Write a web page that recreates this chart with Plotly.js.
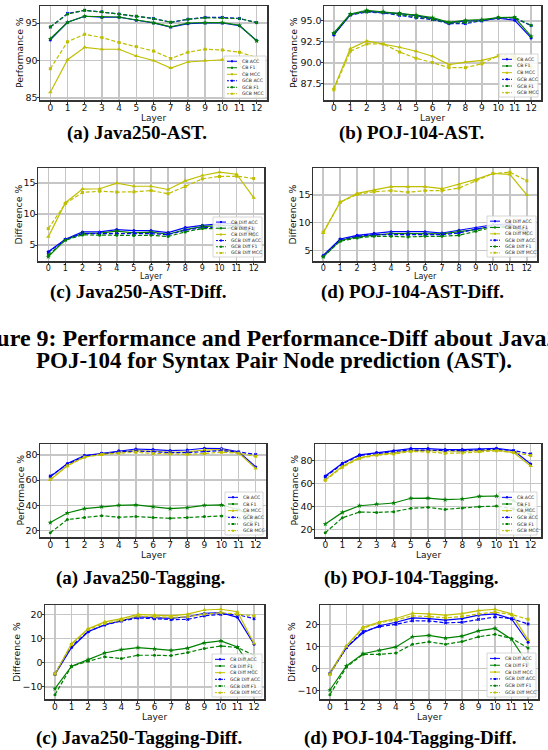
<!DOCTYPE html>
<html>
<head>
<meta charset="utf-8">
<script src="https://cdn.plot.ly/plotly-3.0.1.min.js"></script>
<style>
html,body{margin:0;padding:0;background:#fff;}
#chart{width:548px;height:750px;}
</style>
</head>
<body>
<div id="chart"></div>
<script>
// ---------------- DATA ----------------
const layers = [0,1,2,3,4,5,6,7,8,9,10,11,12];

const seriesPerf = ['CB ACC','CB F1','CB MCC','GCB ACC','GCB F1','GCB MCC'];
const seriesDiff = ['CB Diff ACC','CB Diff F1','CB Diff MCC','GCB Diff ACC','GCB Diff F1','GCB Diff MCC'];

// (a) Java250-AST
const j250AstCbAcc  = [92.75,95.1,95.9,95.77,95.77,95.36,95.0,94.46,94.9,95.0,95.0,94.64,92.66];
const j250AstCbF1   = [92.9,95.1,95.9,95.8,95.8,95.4,95.05,94.5,95.0,95.05,95.05,94.7,92.6];
const j250AstCbMcc  = [85.77,90.1,91.76,91.5,91.5,90.6,90.0,89.0,89.8,90.0,90.1,89.6,85.3];
const j250AstGcbAcc = [94.45,96.26,96.7,96.5,96.2,95.9,95.6,95.1,95.5,95.75,95.75,95.6,95.05];
const j250AstGcbF1  = [94.5,96.2,96.7,96.5,96.2,95.9,95.6,95.1,95.5,95.7,95.7,95.6,95.05];
const j250AstGcbMcc = [88.9,92.5,93.5,93.06,92.4,91.85,91.26,90.27,91.1,91.5,91.4,91.1,90.4];

// (b) POJ-104-AST
const pojAstCbAcc  = [93.33,95.75,96.15,96.03,95.87,95.63,95.28,94.76,95.0,95.04,95.32,95.08,92.98];
const pojAstCbF1   = [93.57,95.83,96.27,96.1,95.95,95.7,95.4,94.84,95.08,95.16,95.4,95.44,93.17];
const pojAstCbMcc  = [87.0,91.7,92.62,92.26,91.87,91.39,90.8,89.8,90.1,90.3,90.8,90.5,86.1];
const pojAstGcbAcc = [93.4,95.7,96.07,95.95,95.67,95.36,95.16,94.68,94.68,95.0,95.36,95.36,94.44];
const pojAstGcbF1  = [93.5,95.75,96.1,96.0,95.75,95.45,95.2,94.75,94.8,95.05,95.4,95.4,94.5];
const pojAstGcbMcc = [86.8,91.39,92.26,92.26,91.3,90.56,90.04,89.44,89.44,89.9,90.87,90.8,89.5];

// (c) Java250-AST-Diff
const j250AstDiffCbAcc  = [3.93,5.96,7.14,7.14,7.51,7.35,7.35,7.03,7.83,8.2,8.42,8.5,6.8];
const j250AstDiffCbF1   = [3.13,5.9,6.87,6.93,7.25,6.98,7.09,6.76,7.5,8.0,8.15,8.2,6.6];
const j250AstDiffCbMcc  = [6.34,11.85,14.04,14.1,15.0,14.5,14.5,13.98,15.37,16.23,16.76,16.44,12.65];
const j250AstDiffGcbAcc = [3.82,5.9,6.87,6.87,6.87,6.87,6.87,6.7,7.4,7.83,7.83,7.9,7.7];
const j250AstDiffGcbF1  = [3.4,5.8,6.66,6.6,6.6,6.55,6.6,6.4,7.14,7.67,7.67,7.75,7.5];
const j250AstDiffGcbMcc = [7.67,11.7,13.5,13.7,13.56,13.6,13.8,13.3,14.47,15.7,16.07,16.12,15.75];

// (d) POJ-104-AST-Diff
const pojAstDiffCbAcc  = [4.1,7.08,7.74,8.1,8.39,8.39,8.39,8.15,8.63,9.05,9.64,9.8,8.3];
const pojAstDiffCbF1   = [3.87,6.8,7.44,7.8,8.04,8.04,8.04,7.98,8.4,8.75,9.46,9.4,7.9];
const pojAstDiffCbMcc  = [8.15,13.7,15.3,15.9,16.5,16.5,16.5,16.13,16.9,17.8,18.87,18.7,15.0];
const pojAstDiffGcbAcc = [3.99,6.96,7.56,7.86,7.86,7.86,7.92,7.86,8.15,8.87,9.34,9.2,8.9];
const pojAstDiffGcbF1  = [3.87,6.67,7.26,7.56,7.56,7.44,7.56,7.56,7.74,8.45,9.2,9.1,8.7];
const pojAstDiffGcbMcc = [8.27,13.7,15.1,15.6,15.77,15.5,15.77,15.77,16.25,17.56,18.87,19.1,17.56];

// (a) Java250-Tagging
const j250TagCbAcc  = [62.6,73.2,79.5,81.3,83.2,84.7,84.2,83.4,83.9,85.3,85.0,82.4,70.5];
const j250TagCbF1   = [26.3,33.9,37.4,38.9,40.0,40.3,38.9,37.4,38.2,40.0,40.3,36.5,30.0];
const j250TagCbMcc  = [60.0,71.6,78.4,80.8,82.1,83.4,82.9,82.1,82.4,83.9,84.2,81.6,69.2];
const j250TagGcbAcc = [63.2,72.6,79.2,81.1,82.4,83.2,82.4,81.8,81.8,82.4,83.4,82.4,80.3];
const j250TagGcbF1  = [18.2,28.7,30.3,31.8,30.5,31.1,30.3,29.7,30.3,31.1,31.6,30.0,26.5];
const j250TagGcbMcc = [60.8,71.3,78.2,80.3,81.3,82.1,81.1,80.8,80.5,81.1,82.1,81.3,78.9];

// (b) POJ-104-Tagging
const pojTagCbAcc  = [66.6,77.7,85.0,87.0,88.5,90.5,90.5,89.6,89.6,90.2,90.8,88.7,77.1];
const pojTagCbF1   = [24.6,34.8,40.6,42.1,43.0,47.1,47.3,45.9,46.5,48.8,49.1,45.0,37.0];
const pojTagCbMcc  = [63.4,75.0,82.6,85.2,86.7,88.7,88.7,88.2,88.2,88.7,89.3,87.0,75.3];
const pojTagGcbAcc = [65.7,77.1,84.4,86.4,87.9,89.3,89.0,88.5,88.7,89.3,89.9,88.7,85.8];
const pojTagGcbF1  = [17.0,30.1,35.1,34.8,35.4,38.3,39.2,37.4,38.6,39.8,40.3,38.0,33.0];
const pojTagGcbMcc = [62.8,74.2,82.0,84.7,85.8,87.9,87.6,86.4,86.7,87.9,88.5,87.0,84.4];

// (c) Java250-Tagging-Diff
const j250TagDiffCbAcc  = [-4.9,6.25,12.8,15.7,17.4,19.0,18.6,18.3,19.0,20.4,20.7,18.75,7.6];
const j250TagDiffCbF1   = [-10.8,-1.5,1.25,4.0,5.4,6.25,5.7,5.1,6.0,8.2,9.0,6.5,-4.0];
const j250TagDiffCbMcc  = [-4.9,7.9,14.0,16.9,18.2,20.0,19.7,19.4,20.1,21.8,22.1,21.1,7.9];
const j250TagDiffGcbAcc = [-4.6,6.8,12.9,15.6,17.2,18.5,18.2,17.8,17.9,19.4,20.0,19.9,18.2];
const j250TagDiffGcbF1  = [-13.3,-1.5,0.55,2.4,1.7,3.05,3.05,2.9,4.2,5.8,6.9,6.25,3.0];
const j250TagDiffGcbMcc = [-4.6,7.5,13.75,16.25,17.6,19.3,19.0,18.75,19.0,20.1,20.7,20.1,19.4];

// (d) POJ-104-Tagging-Diff
const pojTagDiffCbAcc  = [-2.05,9.6,16.3,19.5,21.1,23.1,22.75,22.1,22.75,24.3,24.9,22.6,12.0];
const pojTagDiffCbF1   = [-9.7,1.3,6.8,8.35,9.9,14.5,15.1,13.9,14.8,17.2,18.3,13.4,2.0];
const pojTagDiffCbMcc  = [-2.05,10.35,18.8,21.2,22.8,25.2,24.9,24.3,25.05,26.4,27.0,24.9,13.0];
const pojTagDiffGcbAcc = [-2.4,9.6,16.9,19.1,20.15,21.8,21.7,20.8,21.1,22.45,23.5,22.75,20.3];
const pojTagDiffGcbF1  = [-11.85,0.7,6.5,6.5,7.1,11.1,12.2,11.1,12.3,14.5,15.6,13.7,9.4];
const pojTagDiffGcbMcc = [-2.7,10.2,18.3,20.9,22.1,24.0,23.7,23.1,23.7,24.9,25.7,24.6,22.45];

const subCaptions = ['(a) Java250-AST.','(b) POJ-104-AST.','(c) Java250-AST-Diff.','(d) POJ-104-AST-Diff.',
                     '(a) Java250-Tagging.','(b) POJ-104-Tagging.','(c) Java250-Tagging-Diff.','(d) POJ-104-Tagging-Diff.'];
const figCaptionLines = ['Figure 9: Performance and Performance-Diff about Java250 and','POJ-104 for Syntax Pair Node prediction (AST).'];
const xTitle = 'Layer';

// ---------------- STYLE / LAYOUT ----------------
const W = 548, H = 750;
const colors = ['#0000ff','#008000','#bfbf00','#0000ff','#008000','#bfbf00'];
const dashes = ['solid','solid','solid','4px,2px','4px,2px','4px,2px'];
const symbols = ['circle','star','triangle-up','x','circle','square'];
const msizes = [3,4,4,3,3,3];

const panels = [
  {data:[j250AstCbAcc,j250AstCbF1,j250AstCbMcc,j250AstGcbAcc,j250AstGcbF1,j250AstGcbMcc], names:seriesPerf, yt:'Performance %',
   box:{l:40,t:6,r:267,b:100}, dtick:5, fmt:'', xfs:9, lfs:9, leg:{l:224,t:56,r:266,b:98}, ytx:20, layY:117.5, capX:137, capY:133},
  {data:[pojAstCbAcc,pojAstCbF1,pojAstCbMcc,pojAstGcbAcc,pojAstGcbF1,pojAstGcbMcc], names:seriesPerf, yt:'Performance %',
   box:{l:324,t:6,r:541,b:100}, dtick:2.5, fmt:'.1f', xfs:9, lfs:9, leg:{l:499,t:54,r:538,b:97}, ytx:294, layY:117.5, capX:411, capY:133},
  {data:[j250AstDiffCbAcc,j250AstDiffCbF1,j250AstDiffCbMcc,j250AstDiffGcbAcc,j250AstDiffGcbF1,j250AstDiffGcbMcc], names:seriesDiff, yt:'Difference %',
   box:{l:38,t:168,r:264,b:261}, dtick:5, fmt:'', xfs:8, lfs:8, leg:{l:213,t:217,r:262,b:257}, ytx:18, layY:277, capX:138, capY:292},
  {data:[pojAstDiffCbAcc,pojAstDiffCbF1,pojAstDiffCbMcc,pojAstDiffGcbAcc,pojAstDiffGcbF1,pojAstDiffGcbMcc], names:seriesDiff, yt:'Difference %',
   box:{l:313,t:168,r:537,b:261}, dtick:5, fmt:'', xfs:8, lfs:8, leg:{l:487,t:216,r:536,b:257}, ytx:292, layY:277, capX:412, capY:292},
  {data:[j250TagCbAcc,j250TagCbF1,j250TagCbMcc,j250TagGcbAcc,j250TagGcbF1,j250TagGcbMcc], names:seriesPerf, yt:'Performance %',
   box:{l:40,t:444,r:266,b:537}, dtick:20, fmt:'', xfs:9, lfs:9, leg:{l:225,t:492,r:263,b:535}, ytx:20, layY:555, capX:140, capY:578},
  {data:[pojTagCbAcc,pojTagCbF1,pojTagCbMcc,pojTagGcbAcc,pojTagGcbF1,pojTagGcbMcc], names:seriesPerf, yt:'Performance %',
   box:{l:315,t:444,r:541,b:537}, dtick:20, fmt:'', xfs:9, lfs:9, leg:{l:499,t:492,r:537,b:535}, ytx:294, layY:555, capX:411, capY:578},
  {data:[j250TagDiffCbAcc,j250TagDiffCbF1,j250TagDiffCbMcc,j250TagDiffGcbAcc,j250TagDiffGcbF1,j250TagDiffGcbMcc], names:seriesDiff, yt:'Difference %',
   box:{l:45,t:605,r:264,b:699}, dtick:10, fmt:'', xfs:9, lfs:9, leg:{l:212,t:654,r:262,b:697}, ytx:16, layY:717, capX:139, capY:738},
  {data:[pojTagDiffCbAcc,pojTagDiffCbF1,pojTagDiffCbMcc,pojTagDiffGcbAcc,pojTagDiffGcbF1,pojTagDiffGcbMcc], names:seriesDiff, yt:'Difference %',
   box:{l:320,t:605,r:538,b:699}, dtick:10, fmt:'', xfs:9, lfs:9, leg:{l:487,t:653,r:536,b:697}, ytx:291, layY:717, capX:410, capY:738}
];

const fx = px => px / W;
const fy = py => 1 - py / H;
const tickFont = {family:'DejaVu Sans', size:9.5, color:'#111'};

const traces = [];
const layout = {
  width: W, height: H,
  margin: {l:0, r:0, t:0, b:0},
  paper_bgcolor: '#fff', plot_bgcolor: '#fff',
  showlegend: false,
  shapes: [], annotations: []
};

panels.forEach((p, i) => {
  const n = i + 1;
  const xa = 'x' + n, ya = 'y' + n;
  p.data.forEach((ys, k) => {
    traces.push({
      type: 'scatter', mode: 'lines+markers', x: layers, y: ys, name: p.names[k],
      xaxis: xa, yaxis: ya,
      line: {color: colors[k], width: 1.2, dash: dashes[k]},
      marker: {color: colors[k], size: msizes[k], symbol: symbols[k], line:{width:0}}
    });
  });
  const all = [].concat(...p.data);
  const mn = Math.min(...all), mx = Math.max(...all), sp = mx - mn;
  const common = {
    showline: true, mirror: true, linecolor: '#333', linewidth: 1.5,
    showgrid: true, gridcolor: '#c6c6c6', gridwidth: 1.5, zeroline: false,
    ticks: 'outside', ticklen: 2, tickwidth: 1, tickcolor: '#333', ticklabelstandoff: -3
  };
  layout['xaxis' + n] = Object.assign({}, common, {
    domain: [fx(p.box.l), fx(p.box.r)], anchor: ya,
    range: [-0.6, 12.6], tickmode: 'linear', tick0: 0, dtick: 1,
    tickfont: Object.assign({}, tickFont, {size: p.xfs})
  });
  layout['yaxis' + n] = Object.assign({}, common, {
    domain: [fy(p.box.b), fy(p.box.t)], anchor: xa,
    range: [mn - 0.05 * sp, mx + 0.05 * sp], tickmode: 'linear', tick0: 0, dtick: p.dtick,
    tickformat: p.fmt, tickfont: tickFont
  });
  // axis titles
  layout.annotations.push({xref:'paper', yref:'paper', x: fx((p.box.l + p.box.r) / 2), y: fy(p.layY),
    text: xTitle, showarrow:false, xanchor:'center', yanchor:'middle',
    font:{family:'DejaVu Sans', size: p.lfs, color:'#111'}});
  layout.annotations.push({xref:'paper', yref:'paper', x: fx(p.ytx), y: fy((p.box.t + p.box.b) / 2),
    text: p.yt, showarrow:false, textangle:-90, xanchor:'center', yanchor:'middle',
    font:{family:'DejaVu Sans', size:9.3, color:'#111'}});
  // sub caption
  layout.annotations.push({xref:'paper', yref:'paper', x: fx(p.capX), y: fy(p.capY),
    text: '<b>' + subCaptions[i] + '</b>', showarrow:false, xanchor:'center', yanchor:'middle',
    font:{family:'Liberation Serif', size:19, color:'#000'}});
  // custom legend
  const L = p.leg;
  layout.shapes.push({type:'rect', xref:'paper', yref:'paper', x0: fx(L.l), x1: fx(L.r), y0: fy(L.b), y1: fy(L.t),
    fillcolor:'rgba(255,255,255,0.85)', line:{color:'#cccccc', width:0.8}, layer:'above'});
  const rowH = (L.b - L.t - 3) / 6;
  p.names.forEach((nm, k) => {
    const yc = L.t + 2 + rowH * (k + 0.5);
    layout.shapes.push({type:'line', xref:'paper', yref:'paper', x0: fx(L.l + 3), x1: fx(L.l + 13), y0: fy(yc), y1: fy(yc),
      line:{color: colors[k], width:1, dash: k < 3 ? 'solid' : '2px,1px'}, layer:'above'});
    layout.shapes.push({type:'rect', xref:'paper', yref:'paper', x0: fx(L.l + 7), x1: fx(L.l + 9), y0: fy(yc + 1), y1: fy(yc - 1),
      fillcolor: colors[k], line:{width:0}, layer:'above'});
    layout.annotations.push({xref:'paper', yref:'paper', x: fx(L.l + 15.5), y: fy(yc), text: nm, showarrow:false,
      xanchor:'left', yanchor:'middle', font:{family:'DejaVu Sans', size:4.6, color:'#222'}});
  });
});

// figure caption (first line is cropped at both page edges in the reference)
layout.annotations.push({xref:'paper', yref:'paper', x: fx(-39), y: fy(338), text:'<b>' + figCaptionLines[0] + '</b>',
  showarrow:false, xanchor:'left', yanchor:'middle', font:{family:'Liberation Serif', size:24, color:'#000'}});
layout.annotations.push({xref:'paper', yref:'paper', x: fx(274), y: fy(360), text:'<b>' + figCaptionLines[1] + '</b>',
  showarrow:false, xanchor:'center', yanchor:'middle', font:{family:'Liberation Serif', size:23, color:'#000'}});

Plotly.newPlot('chart', traces, layout, {staticPlot:true, displayModeBar:false});
</script>
</body>
</html>
